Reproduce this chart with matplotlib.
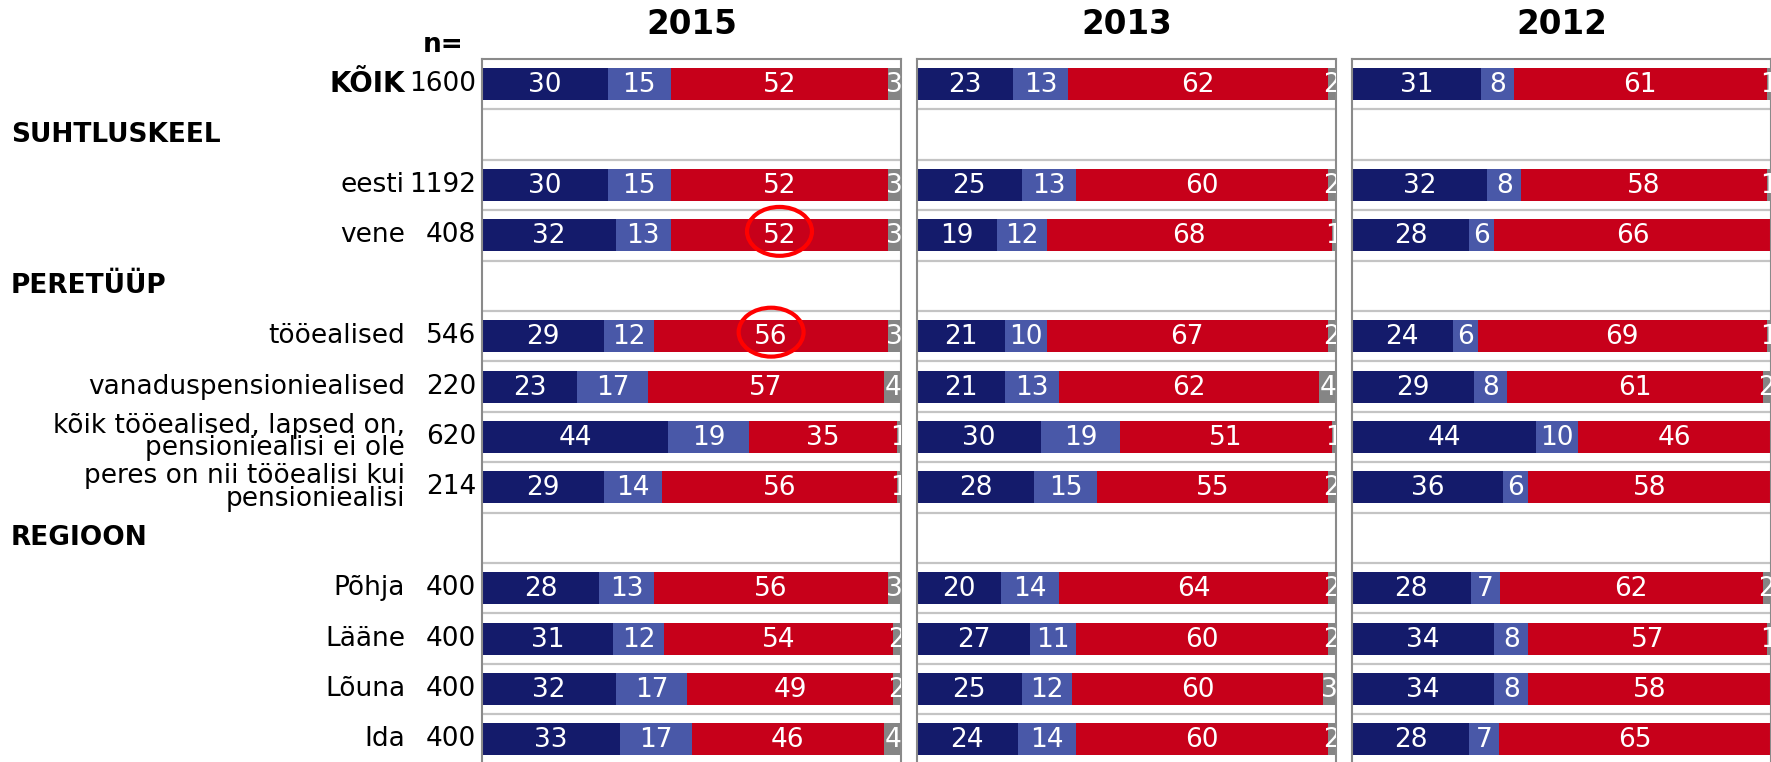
import matplotlib
matplotlib.use('Agg')
import matplotlib.pyplot as plt
from matplotlib.patches import Ellipse
import matplotlib.transforms as mtransforms
import numpy as np

plt.rcParams['font.family'] = ['DejaVu Sans']

years = ['2015', '2013', '2012']
row_labels = ['KÕIK', 'SUHTLUSKEEL', 'eesti', 'vene', 'PERETÜÜP', 'tööealised',
              'vanaduspensioniealised', 'kõik tööealised, lapsed on,\npensioniealisi ei ole',
              'peres on nii tööealisi kui\npensioniealisi', 'REGIOON',
              'Põhja', 'Lääne', 'Lõuna', 'Ida']
row_kind = ['total', 'group', 'item', 'item', 'group', 'item', 'item', 'item', 'item',
            'group', 'item', 'item', 'item', 'item']
n_values = ['1600', '', '1192', '408', '', '546', '220', '620', '214', '', '400', '400', '400', '400']

s2015_dark = [30, None, 30, 32, None, 29, 23, 44, 29, None, 28, 31, 32, 33]
s2015_mid = [15, None, 15, 13, None, 12, 17, 19, 14, None, 13, 12, 17, 17]
s2015_red = [52, None, 52, 52, None, 56, 57, 35, 56, None, 56, 54, 49, 46]
s2015_gray = [3, None, 3, 3, None, 3, 4, 1, 1, None, 3, 2, 2, 4]

s2013_dark = [23, None, 25, 19, None, 21, 21, 30, 28, None, 20, 27, 25, 24]
s2013_mid = [13, None, 13, 12, None, 10, 13, 19, 15, None, 14, 11, 12, 14]
s2013_red = [62, None, 60, 68, None, 67, 62, 51, 55, None, 64, 60, 60, 60]
s2013_gray = [2, None, 2, 1, None, 2, 4, 1, 2, None, 2, 2, 3, 2]

s2012_dark = [31, None, 32, 28, None, 24, 29, 44, 36, None, 28, 34, 34, 28]
s2012_mid = [8, None, 8, 6, None, 6, 8, 10, 6, None, 7, 8, 8, 7]
s2012_red = [61, None, 58, 66, None, 69, 61, 46, 58, None, 62, 57, 58, 65]
s2012_gray = [1, None, 1, 0, None, 1, 2, 0, 0, None, 2, 1, 0, 0]

series_by_year = {
    '2015': [s2015_dark, s2015_mid, s2015_red, s2015_gray],
    '2013': [s2013_dark, s2013_mid, s2013_red, s2013_gray],
    '2012': [s2012_dark, s2012_mid, s2012_red, s2012_gray],
}
# highlighted cells: (year, row index, segment index)
highlights = [('2015', 3, 2), ('2015', 5, 2)]

colors = ['#141B6B', '#4958A8', '#C7001A', '#858585']

W, H = 1771, 762
fig = plt.figure(figsize=(W / 100, H / 100), dpi=100)

nrows = len(row_labels)
row_h = 50.4
top_px = 59
panel_w = 419
lefts_px = [482, 917, 1352]
ax_h_px = nrows * row_h
bottom_px = top_px + ax_h_px

axes = []
for yi, year in enumerate(years):
    ax = fig.add_axes([lefts_px[yi] / W, (H - bottom_px) / H, panel_w / W, ax_h_px / H])
    axes.append(ax)
    ax.set_xlim(0, 100)
    ax.set_ylim(nrows - 0.5, -0.5)
    ax.set_xticks([])
    ax.set_yticks([])
    for s in ['left', 'top', 'right']:
        ax.spines[s].set_color('#8a8a8a')
        ax.spines[s].set_linewidth(1.5)
    ax.spines['bottom'].set_visible(False)
    for b in range(nrows - 1):
        ax.axhline(b + 0.5, color='#c4c4c4', lw=1.6, zorder=1)

    series = series_by_year[year]
    for r in range(nrows):
        if series[0][r] is None:
            continue
        vals = np.array([s[r] for s in series], dtype=float)
        total = vals.sum()
        widths = vals / total * 100.0
        lefts = np.concatenate([[0], np.cumsum(widths)[:-1]])
        for k in range(4):
            if vals[k] <= 0:
                continue
            ax.barh(r, widths[k], left=lefts[k], height=0.635, color=colors[k],
                    edgecolor='none', zorder=2)
            ax.text(lefts[k] + widths[k] / 2, r + 0.02, f'{int(vals[k])}', color='white',
                    fontsize=19, ha='center', va='center', zorder=3, clip_on=True)
        for (hy, hr, hk) in highlights:
            if hy == year and hr == r:
                cx = lefts[hk] + widths[hk] / 2
                ax.add_patch(Ellipse((cx, r - 0.08), width=15.5, height=0.97, fill=False,
                                     edgecolor='#ff0000', lw=3, zorder=5, clip_on=False))

    fig.text((lefts_px[yi] + panel_w / 2) / W, (H - 25) / H, year, fontsize=23.5,
             fontweight='bold', ha='center', va='center')

trans = mtransforms.blended_transform_factory(fig.transFigure, axes[0].transData)
for r in range(nrows):
    kind = row_kind[r]
    if kind == 'group':
        fig.text(11 / W, r, row_labels[r], transform=trans, fontsize=19, fontweight='bold',
                 ha='left', va='center')
    else:
        fig.text(405 / W, r, row_labels[r], transform=trans,
                 fontsize=20 if kind == 'total' else 19,
                 fontweight='bold' if kind == 'total' else 'normal',
                 ha='right', va='center', linespacing=0.82)
    if n_values[r]:
        fig.text(476 / W, r, n_values[r], transform=trans, fontsize=19, ha='right', va='center')

fig.text(443 / W, (H - 45) / H, 'n=', fontsize=19, fontweight='bold', ha='center', va='center')

fig.savefig('out.png', dpi=100)
